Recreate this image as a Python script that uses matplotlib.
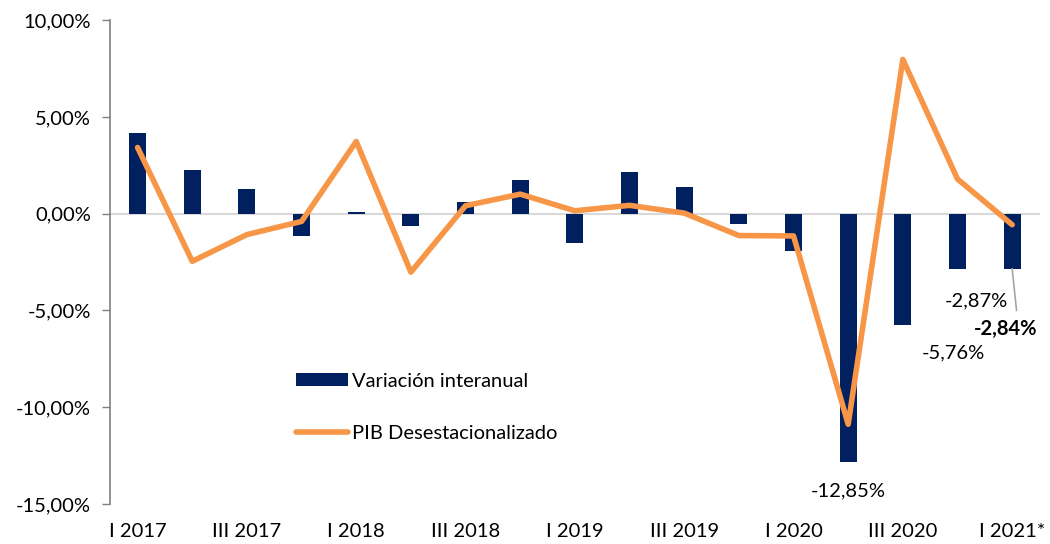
import numpy as np
import matplotlib.pyplot as plt
from matplotlib.ticker import FuncFormatter

plt.rcParams['font.family'] = ['Lato', 'DejaVu Sans']

quarters = ["I 2017", "II 2017", "III 2017", "IV 2017",
            "I 2018", "II 2018", "III 2018", "IV 2018",
            "I 2019", "II 2019", "III 2019", "IV 2019",
            "I 2020", "II 2020", "III 2020", "IV 2020", "I 2021*"]
variacion = [4.16, 2.27, 1.29, -1.13, 0.10, -0.65, 0.60, 1.75,
             -1.51, 2.13, 1.39, -0.53, -1.94, -12.85, -5.76, -2.87, -2.84]
pib_desest = [3.42, -2.46, -1.08, -0.40, 3.73, -3.02, 0.41, 1.01,
              0.15, 0.43, 0.03, -1.13, -1.15, -10.88, 7.97, 1.79, -0.57]

navy = '#002060'
orange = '#F79646'

fig = plt.figure(figsize=(10.5, 5.44), dpi=100)
ax = fig.add_axes([0.105, 0.0735, 0.885, 0.8895])

x = np.arange(len(quarters))
ax.axhline(0, color='#D9D9D9', lw=1.5, zorder=1)
bars = ax.bar(x, variacion, width=0.31, color=navy, zorder=2, label='Variación interanual')
line, = ax.plot(x, pib_desest, color=orange, lw=4, solid_capstyle='round',
                solid_joinstyle='round', zorder=3, label='PIB Desestacionalizado')

ax.set_xlim(-0.5, len(quarters) - 0.5)
ax.set_ylim(-15, 10)
ax.set_yticks([-15, -10, -5, 0, 5, 10])
ax.yaxis.set_major_formatter(FuncFormatter(lambda v, p: f"{v:.2f}%".replace('.', ',')))
ax.set_xticks(x[::2])
ax.set_xticklabels(quarters[::2])
ax.tick_params(axis='x', length=0, pad=14, labelsize=14.5)
ax.tick_params(axis='y', length=6, width=1, color='#808080', labelsize=14.5, pad=8)

for s in ['top', 'right', 'bottom']:
    ax.spines[s].set_visible(False)
ax.spines['left'].set_color('#808080')
ax.spines['left'].set_linewidth(1.2)

# etiquetas de datos
last = len(quarters) - 1
ax.text(13, -13.9, "-12,85%", ha='center', va='top', fontsize=14.5)
ax.text(14.35, -7.2, "-5,76%", ha='left', va='center', fontsize=14.5)
ax.text(15.35, -4.5, "-2,87%", ha='center', va='center', fontsize=14.5)
ax.annotate("", xy=(last, variacion[last]), xytext=(last + 0.08, -5.0),
            arrowprops=dict(arrowstyle='-', color='#A6A6A6', lw=1.2,
                            shrinkA=0, shrinkB=0))
ax.text(last - 0.12, -5.95, "-2,84%", ha='center', va='center',
        fontsize=14.5, fontweight='bold')

leg = ax.legend([bars, line], ['Variación interanual', 'PIB Desestacionalizado'],
                loc='center left', bbox_to_anchor=(0.18, 0.2), frameon=False,
                fontsize=14.5, handlelength=2.6, handleheight=0.6,
                labelspacing=1.75, handletextpad=0.2)

fig.savefig('out.png', dpi=100)
